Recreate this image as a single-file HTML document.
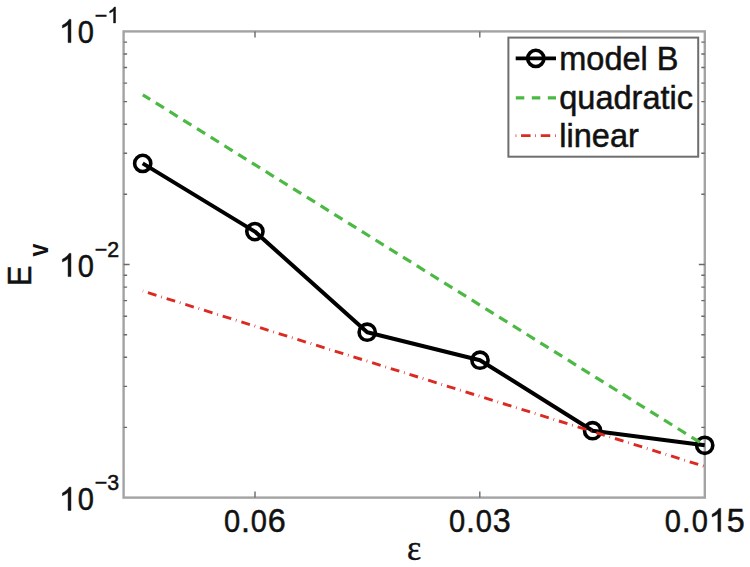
<!DOCTYPE html>
<html><head><meta charset="utf-8"><style>
html,body{margin:0;padding:0;background:#fff;}
body{width:750px;height:567px;overflow:hidden;font-family:"Liberation Sans",sans-serif;}
svg{display:block;}
</style></head><body>
<svg width="750" height="567" viewBox="0 0 750 567">
<defs><path id="one" d="M763 0H583V1147Q518 1085 412.5 1023Q307 961 223 930V1104Q374 1175 487 1276Q600 1377 647 1472H763V0Z"/></defs>
<rect x="123.6" y="31.4" width="581.2" height="466.2" fill="none" stroke="#a3a3a3" stroke-width="2.4"/>
<path d="M123.6 194.3h3.5M704.8 194.3h-3.5M123.6 153.3h3.5M704.8 153.3h-3.5M123.6 124.2h3.5M704.8 124.2h-3.5M123.6 101.6h3.5M704.8 101.6h-3.5M123.6 83.1h3.5M704.8 83.1h-3.5M123.6 67.5h3.5M704.8 67.5h-3.5M123.6 54.0h3.5M704.8 54.0h-3.5M123.6 42.1h3.5M704.8 42.1h-3.5M123.6 427.4h3.5M704.8 427.4h-3.5M123.6 386.4h3.5M704.8 386.4h-3.5M123.6 357.3h3.5M704.8 357.3h-3.5M123.6 334.7h3.5M704.8 334.7h-3.5M123.6 316.2h3.5M704.8 316.2h-3.5M123.6 300.6h3.5M704.8 300.6h-3.5M123.6 287.1h3.5M704.8 287.1h-3.5M123.6 275.2h3.5M704.8 275.2h-3.5M123.6 264.5h6M704.8 264.5h-6M255.0 497.6v-6M255.0 31.4v6M479.8 497.6v-6M479.8 31.4v6" stroke="#6a6a6a" stroke-width="1.4" fill="none"/>
<path d="M142.7 163.4 L254.9 231.6 L367.2 332.2 L480.0 360.2 L592.6 430.7 L704.7 445.3" stroke="#000" stroke-width="4" fill="none" stroke-linejoin="round"/>
<circle cx="142.7" cy="163.4" r="8.1" fill="none" stroke="#000" stroke-width="3.6"/>
<circle cx="254.9" cy="231.6" r="8.1" fill="none" stroke="#000" stroke-width="3.6"/>
<circle cx="367.2" cy="332.2" r="8.1" fill="none" stroke="#000" stroke-width="3.6"/>
<circle cx="480.0" cy="360.2" r="8.1" fill="none" stroke="#000" stroke-width="3.6"/>
<circle cx="592.6" cy="430.7" r="8.1" fill="none" stroke="#000" stroke-width="3.6"/>
<circle cx="704.7" cy="445.3" r="8.1" fill="none" stroke="#000" stroke-width="3.6"/>
<line x1="142.8" y1="94.8" x2="704.7" y2="445.3" stroke="#4cb944" stroke-width="3.2" stroke-dasharray="9.6 6.59" stroke-dashoffset="0.9"/>
<line x1="142.8" y1="291.1" x2="704.7" y2="466.5" stroke="#db2a22" stroke-width="2.9" stroke-dasharray="0.7 5.05 8.9 4.92" stroke-dashoffset="0.35"/>
<rect x="508.4" y="37.6" width="189.8" height="119.1" fill="#fff" stroke="#6e6e6e" stroke-width="2"/>
<line x1="515.7" y1="58.4" x2="556" y2="58.4" stroke="#000" stroke-width="3.8"/>
<circle cx="535.8" cy="58.4" r="8.1" fill="none" stroke="#000" stroke-width="3.6"/>
<line x1="515.8" y1="97.9" x2="556" y2="97.9" stroke="#4cb944" stroke-width="3.2" stroke-dasharray="8.5 7.5"/>
<line x1="515.6" y1="135.6" x2="556" y2="135.6" stroke="#db2a22" stroke-width="2.9" stroke-dasharray="0.7 4.75 9.5 4.75"/>
<g font-family="Liberation Sans, sans-serif" fill="#111" stroke="#111" stroke-width="0.5">
<text x="559.30" y="69.90" font-size="32.5">model B</text>
<text x="559.30" y="109.10" font-size="32.5">quadratic</text>
<text x="559.30" y="147.20" font-size="32.5">linear</text>
<text transform="translate(231.95,531.60) scale(0.9,1)" x="-8.98" y="0" font-size="32.3">0</text>
<text x="240.93" y="531.60" font-size="32.3">.</text>
<text transform="translate(258.89,531.60) scale(0.9,1)" x="-8.98" y="0" font-size="32.3">0</text>
<text x="267.87" y="531.60" font-size="32.3">6</text>
<text transform="translate(456.95,531.60) scale(0.9,1)" x="-8.98" y="0" font-size="32.3">0</text>
<text x="465.93" y="531.60" font-size="32.3">.</text>
<text transform="translate(483.89,531.60) scale(0.9,1)" x="-8.98" y="0" font-size="32.3">0</text>
<text x="492.87" y="531.60" font-size="32.3">3</text>
<text transform="translate(672.77,531.60) scale(0.9,1)" x="-8.98" y="0" font-size="32.3">0</text>
<text x="681.75" y="531.60" font-size="32.3">.</text>
<text transform="translate(699.71,531.60) scale(0.9,1)" x="-8.98" y="0" font-size="32.3">0</text>
<use href="#one" transform="translate(708.69,531.60) scale(0.01577,-0.01577)" stroke-width="31.7"/>
<text x="726.65" y="531.60" font-size="32.3">5</text>
<use href="#one" transform="translate(58.90,42.60) scale(0.01577,-0.01577)" stroke-width="31.7"/>
<text transform="translate(85.84,42.60) scale(0.9,1)" x="-8.98" y="0" font-size="32.3">0</text>
<g transform="translate(94.85,23.20) scale(0.95,1)">
<text x="0.00" y="0.00" font-size="22.5">−</text>
</g>
<g transform="translate(107.33,22.9) scale(0.95,1)">
</g>
<use href="#one" transform="translate(107.33,22.90) scale(0.01074,-0.01074)" stroke-width="46.5"/>
<use href="#one" transform="translate(58.90,276.60) scale(0.01577,-0.01577)" stroke-width="31.7"/>
<text transform="translate(85.84,276.60) scale(0.9,1)" x="-8.98" y="0" font-size="32.3">0</text>
<g transform="translate(94.85,257.20) scale(0.95,1)">
<text x="0.00" y="0.00" font-size="22.5">−</text>
</g>
<g transform="translate(107.33,256.9) scale(0.95,1)">
<text x="0.00" y="0.00" font-size="22.5">2</text>
</g>
<use href="#one" transform="translate(58.90,510.40) scale(0.01577,-0.01577)" stroke-width="31.7"/>
<text transform="translate(85.84,510.40) scale(0.9,1)" x="-8.98" y="0" font-size="32.3">0</text>
<g transform="translate(94.85,490.00) scale(0.95,1)">
<text x="0.00" y="0.00" font-size="22.5">−</text>
</g>
<g transform="translate(107.33,489.7) scale(0.95,1)">
<text x="0.00" y="0.00" font-size="22.5">3</text>
</g>
</g>
<text transform="translate(31.2,285.9) rotate(-90) scale(0.93,1)" font-family="Liberation Sans, sans-serif" font-size="33" fill="#111" stroke="#111" stroke-width="0.5">E</text>
<text transform="translate(48.0,256.4) rotate(-90) scale(0.96,1.12)" font-family="Liberation Sans, sans-serif" font-size="24" font-weight="bold" fill="#111">v</text>
<text transform="translate(414,560) scale(0.94,1)" font-family="Liberation Serif, serif" font-size="36" text-anchor="middle" fill="#111" stroke="#111" stroke-width="0.4">ε</text>
</svg>
</body></html>
